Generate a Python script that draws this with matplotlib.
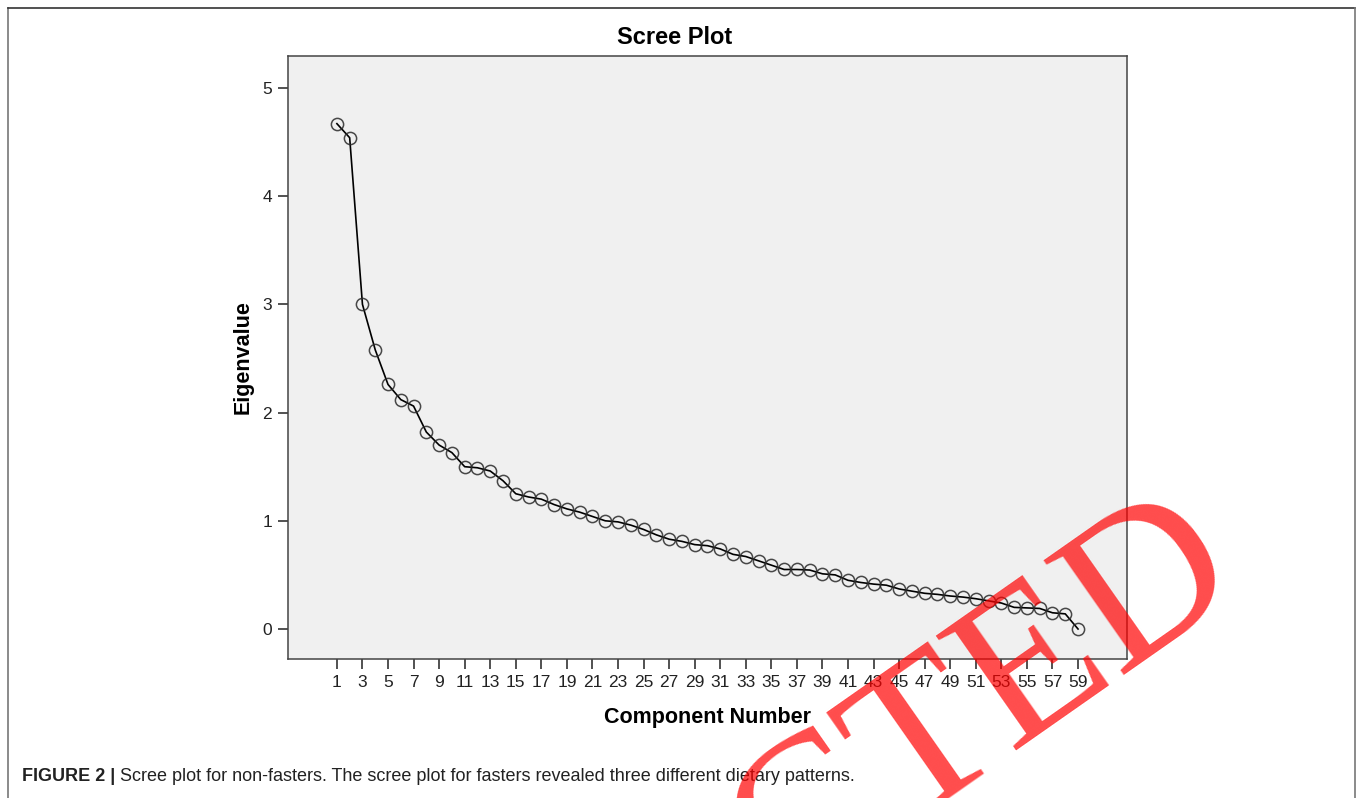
import matplotlib.pyplot as plt
import numpy as np
from matplotlib.lines import Line2D

# eigenvalues, components 1..59
components = np.arange(1, 60)
eigenvalues = [4.67, 4.54, 3.00, 2.58, 2.26, 2.12, 2.06, 1.82, 1.70, 1.63,
               1.50, 1.49, 1.46, 1.37, 1.25, 1.22, 1.20, 1.15, 1.11, 1.08,
               1.04, 1.00, 0.99, 0.96, 0.92, 0.87, 0.83, 0.81, 0.78, 0.77,
               0.74, 0.69, 0.67, 0.63, 0.59, 0.55, 0.55, 0.545, 0.51, 0.50,
               0.45, 0.43, 0.415, 0.405, 0.37, 0.35, 0.33, 0.32, 0.305, 0.295,
               0.28, 0.26, 0.24, 0.20, 0.195, 0.19, 0.15, 0.14, 0.0]
xticks = list(range(1, 60, 2))
yticks = [0, 1, 2, 3, 4, 5]

title = "Scree Plot"
xlabel = "Component Number"
ylabel = "Eigenvalue"
caption_bold = "FIGURE 2 |"
caption_text = "Scree plot for non-fasters. The scree plot for fasters revealed three different dietary patterns."
stamp = "RETRACTED"

plt.rcParams['font.family'] = ['Liberation Sans', 'DejaVu Sans']

fig = plt.figure(figsize=(13.57, 7.98), dpi=100)
ax = fig.add_axes([0.2122, 0.1742, 0.6183, 0.7556])
ax.set_facecolor('#f0f0f0')

ax.plot(components, eigenvalues, color='black', linewidth=1.2, zorder=2)
ax.plot(components, eigenvalues, linestyle='none', marker='o', markersize=8.8,
        markerfacecolor='none', markeredgecolor='#2a2a2a', markeredgewidth=1.1,
        alpha=0.85, zorder=3)

ax.set_xlim(-2.83, 62.83)
ax.set_ylim(-0.277, 5.295)
ax.set_xticks(xticks)
ax.set_yticks(yticks)
ax.tick_params(direction='out', length=7.5, width=1.1, color='#222222',
               labelsize=12.5, pad=4, labelcolor='#222222')
for s in ax.spines.values():
    s.set_color('#444444')
    s.set_linewidth(1.1)

# title is centred on the whole chart, not on the axes
fig.text(675 / 1357, 1 - 38 / 798, title, fontsize=17, fontweight='bold',
         ha='center', va='center')
ax.set_xlabel(xlabel, fontsize=15.5, fontweight='bold', labelpad=12)
ax.set_ylabel(ylabel, fontsize=15.5, fontweight='bold', labelpad=6)

# outer frame of the figure panel
fig.add_artist(Line2D([8 / 1357, 8 / 1357], [-0.1, 1 - 8 / 798], color='#777777', lw=1.2))
fig.add_artist(Line2D([8 / 1357, 1355 / 1357], [1 - 8 / 798, 1 - 8 / 798], color='#333333', lw=1.2))
fig.add_artist(Line2D([1355 / 1357, 1355 / 1357], [-0.1, 1 - 8 / 798], color='#777777', lw=1.2))

# caption
t1 = fig.text(22 / 1357, 1 - 781 / 798, caption_bold, fontsize=13, fontweight='bold',
              va='baseline', color='#222222')
fig.canvas.draw()
bb = t1.get_window_extent()
fig.text((bb.x1 + 5) / 1357, 1 - 781 / 798, caption_text, fontsize=13,
         va='baseline', color='#222222')

# watermark stamp, mostly running off the bottom edge
fig.text(0.918, 0.267, stamp, fontsize=155, family=['Liberation Serif', 'DejaVu Serif'],
         color='red', alpha=0.7, rotation=35, rotation_mode='anchor',
         ha='right', va='baseline', zorder=10)

fig.savefig('out.png', dpi=100)
